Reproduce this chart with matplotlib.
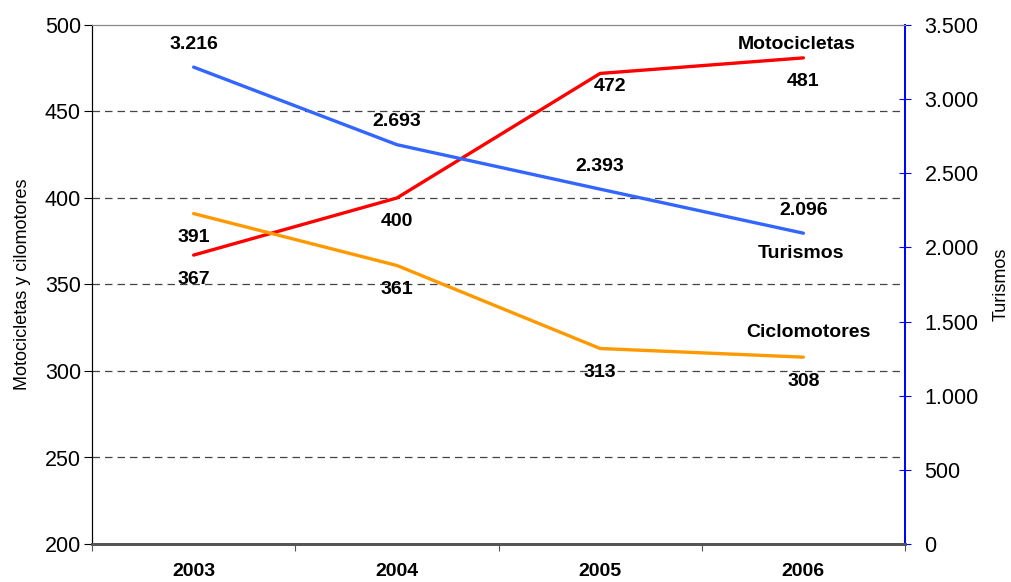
import matplotlib
matplotlib.use("Agg")
import matplotlib.pyplot as plt
from matplotlib.ticker import FuncFormatter

# datos
years = ["2003", "2004", "2005", "2006"]
motocicletas = [367, 400, 472, 481]
ciclomotores = [391, 361, 313, 308]
turismos = [3216, 2693, 2393, 2096]

# estilo
plt.rcParams['font.family'] = ['Liberation Sans', 'DejaVu Sans']
c_moto = "#ff0000"
c_ciclo = "#ff9900"
c_tur = "#3366ff"
lw = 2.4

fig = plt.figure(figsize=(10.11, 5.82), dpi=100)
ax1 = fig.add_axes([92/1011, 1-544/582, (905-92)/1011, (544-25)/582])
ax2 = ax1.twinx()

x = list(range(len(years)))

ax1.plot(x, motocicletas, color=c_moto, linewidth=lw, solid_capstyle='round', zorder=3)
ax1.plot(x, ciclomotores, color=c_ciclo, linewidth=lw, solid_capstyle='round', zorder=3)
ax2.plot(x, turismos, color=c_tur, linewidth=lw, solid_capstyle='round', zorder=3)

# ejes
ax1.set_xlim(-0.5, 3.5)
ax1.set_ylim(200, 500)
ax1.set_yticks(range(200, 501, 50))
ax2.set_ylim(0, 3500)
ax2.set_yticks(range(0, 3501, 500))
ax2.yaxis.set_major_formatter(FuncFormatter(lambda v, p: "{:,.0f}".format(v).replace(",", ".")))

ax1.set_xticks([-0.5, 0.5, 1.5, 2.5, 3.5])
ax1.set_xticklabels([])
ax1.set_xticks(x, minor=True)
ax1.set_xticklabels(years, minor=True, fontsize=14, fontweight='bold')
ax1.tick_params(axis='x', which='minor', length=0, pad=14)
ax1.tick_params(axis='x', which='major', length=5, color='#555555', direction='out')

ax1.tick_params(axis='y', labelsize=15.5, length=6, direction='out', color='black', pad=2)
ax2.tick_params(axis='y', labelsize=15.5, length=8, direction='inout', color='#0000ff', pad=10)

# rejilla
for v in [250, 300, 350, 400, 450]:
    ax1.axhline(v, color='#444444', linestyle=(0, (6, 4)), linewidth=0.9, zorder=1)

for ax in (ax1, ax2):
    ax.spines['top'].set_color('#888888')
    ax.spines['bottom'].set_color('#555555')
    ax.spines['bottom'].set_linewidth(2)
    ax.spines['left'].set_color('black')
    ax.spines['right'].set_color('#0000ff')
    ax.spines['right'].set_linewidth(1.3)

ax1.set_ylabel("Motocicletas y cilomotores", fontsize=13, labelpad=10)
ax2.set_ylabel("Turismos", fontsize=13, labelpad=10)

# etiquetas de datos
lab = dict(ha='center', va='center', fontsize=14, fontweight='bold', textcoords='offset pixels')
moto_off = [(0, -24), (0, -24), (10, -13), (0, -24)]
for i, v in enumerate(motocicletas):
    ax1.annotate(str(v), (i, v), xytext=moto_off[i], **lab)
for i, v in enumerate(ciclomotores):
    ax1.annotate(str(v), (i, v), xytext=(0, -24), **lab)
for i, v in enumerate(turismos):
    ax2.annotate("{:,.0f}".format(v).replace(",", "."), (i, v), xytext=(0, 23), **lab)

ax1.annotate("Motocicletas", (3, motocicletas[-1]), xytext=(-7, 13), **lab)
ax2.annotate("Turismos", (3, turismos[-1]), xytext=(-2, -20), **lab)
ax1.annotate("Ciclomotores", (3, ciclomotores[-1]), xytext=(5, 25), **lab)

fig.savefig("out.png", dpi=100)
